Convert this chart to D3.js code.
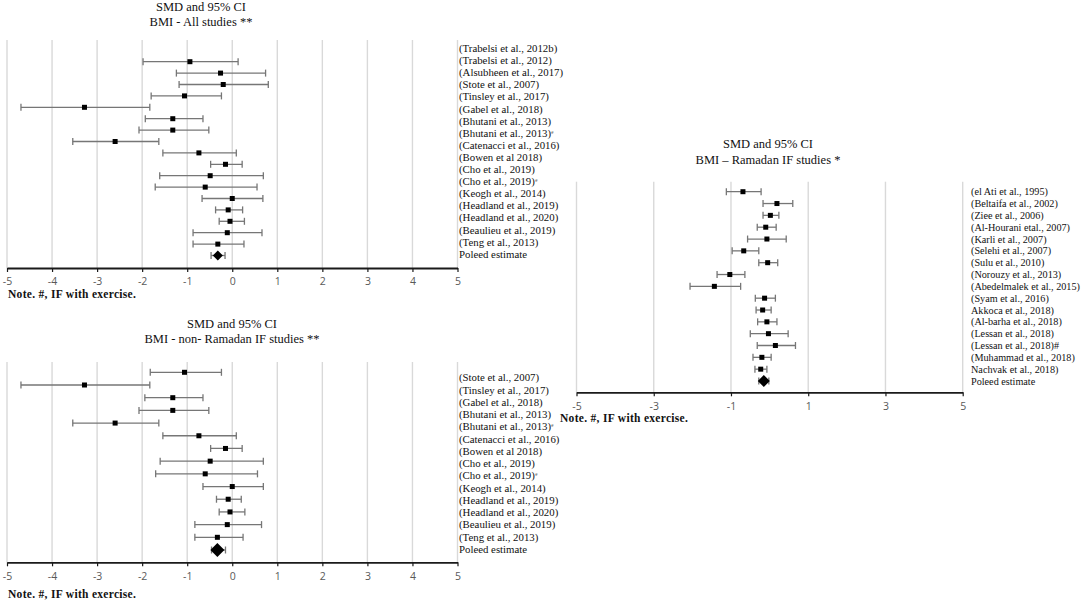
<!DOCTYPE html>
<html>
<head>
<meta charset="utf-8">
<script src="https://cdn.jsdelivr.net/npm/d3@7"></script>
<style>
  body { margin: 0; background: #fff; }
  svg { display: block; }
</style>
</head>
<body>
<svg id="chart" width="1084" height="600"></svg>
<script>
// ---- data: BMI - all studies ----
const allStudies = ["(Trabelsi et al., 2012b)", "(Trabelsi et al., 2012)", "(Alsubheen et al., 2017)",
  "(Stote et al., 2007)", "(Tinsley et al., 2017)", "(Gabel et al., 2018)", "(Bhutani et al., 2013)",
  "(Bhutani et al., 2013)#", "(Catenacci et al., 2016)", "(Bowen et al 2018)", "(Cho et al., 2019)",
  "(Cho et al., 2019)#", "(Keogh et al., 2014)", "(Headland et al., 2019)", "(Headland et al., 2020)",
  "(Beaulieu et al., 2019)", "(Teng et al., 2013)", "Poleed estimate"];
const allSmd  = [-0.94, -0.26, -0.20, -1.06, -3.28, -1.32, -1.32, -2.60, -0.74, -0.15, -0.49, -0.60, 0.00, -0.09, -0.05, -0.11, -0.32, -0.32];
const allLow  = [-1.98, -1.24, -1.18, -1.80, -4.69, -1.93, -2.07, -3.54, -1.54, -0.48, -1.61, -1.71, -0.67, -0.37, -0.29, -0.87, -0.87, -0.47];
const allHigh = [0.13, 0.74, 0.80, -0.24, -1.83, -0.65, -0.52, -1.63, 0.09, 0.22, 0.69, 0.55, 0.68, 0.23, 0.27, 0.66, 0.26, -0.16];

// ---- data: BMI - non-Ramadan IF studies ----
const nonRamStudies = ["(Stote et al., 2007)", "(Tinsley et al., 2017)", "(Gabel et al., 2018)",
  "(Bhutani et al., 2013)", "(Bhutani et al., 2013)#", "(Catenacci et al., 2016)", "(Bowen et al 2018)",
  "(Cho et al., 2019)", "(Cho et al., 2019)#", "(Keogh et al., 2014)", "(Headland et al., 2019)",
  "(Headland et al., 2020)", "(Beaulieu et al., 2019)", "(Teng et al., 2013)", "Poleed estimate"];
const nonRamSmd  = [-1.06, -3.28, -1.32, -1.32, -2.60, -0.74, -0.15, -0.49, -0.60, 0.00, -0.09, -0.05, -0.11, -0.33, -0.33];
const nonRamLow  = [-1.82, -4.69, -1.94, -2.07, -3.54, -1.54, -0.48, -1.60, -1.70, -0.65, -0.35, -0.29, -0.83, -0.83, -0.46];
const nonRamHigh = [-0.24, -1.83, -0.65, -0.52, -1.63, 0.09, 0.22, 0.69, 0.56, 0.69, 0.20, 0.28, 0.65, 0.24, -0.15];

// ---- data: BMI - Ramadan IF studies ----
const ramStudies = ["(el Ati et al., 1995)", "(Beltaifa et al., 2002)", "(Ziee et al., 2006)",
  "(Al-Hourani etal., 2007)", "(Karli et al., 2007)", "(Selehi et al., 2007)", "(Sulu  et al., 2010)",
  "(Norouzy et al., 2013)", "(Abedelmalek et al., 2015)", "(Syam et al., 2016)", "Akkoca et al., 2018)",
  "(Al-barha et al., 2018)", "(Lessan et al., 2018)", "(Lessan et al., 2018)#", "(Muhammad et al., 2018)",
  "Nachvak et al., 2018)", "Poleed estimate"];
const ramSmd  = [-0.69, 0.19, 0.02, -0.10, -0.07, -0.67, -0.05, -1.03, -1.43, -0.13, -0.18, -0.07, -0.03, 0.15, -0.20, -0.23, -0.15];
const ramLow  = [-1.12, -0.17, -0.17, -0.32, -0.57, -0.97, -0.28, -1.36, -2.06, -0.37, -0.35, -0.31, -0.50, -0.32, -0.43, -0.38, -0.28];
const ramHigh = [-0.22, 0.60, 0.24, 0.17, 0.43, -0.28, 0.21, -0.64, -0.75, 0.15, 0.04, 0.19, 0.48, 0.67, 0.04, -0.07, -0.02];

const ticksOne = [-5, -4, -3, -2, -1, 0, 1, 2, 3, 4, 5];
const ticksTwo = [-5, -3, -1, 1, 3, 5];
const noteText = "Note. #, IF with exercise.";

const svg = d3.select("#chart");
const serif = "'Liberation Serif', 'Times New Roman', serif";

function drawPanel(p) {
  const g = svg.append("g");
  const x = d3.scaleLinear().domain([-5, 5]).range(p.xRange);
  const n = p.smd.length;
  const yMark = d3.scalePoint().domain(d3.range(n)).range(p.markRange);
  const yLab = d3.scalePoint().domain(d3.range(p.labels.length)).range(p.labelRange);

  // titles
  g.selectAll("text.title").data(p.title).join("text")
    .attr("class", "title")
    .attr("x", p.titleX).attr("y", (d, i) => p.titleY[i])
    .attr("dy", "0.35em")
    .attr("text-anchor", "middle")
    .style("font-family", serif).style("font-size", "12.5px").attr("fill", "#111")
    .text(d => d);

  // vertical gridlines
  g.selectAll("line.grid").data(p.ticks).join("line")
    .attr("class", "grid")
    .attr("x1", d => x(d)).attr("x2", d => x(d))
    .attr("y1", p.gridTop).attr("y2", p.axisY)
    .attr("stroke", "#d9d9d9").attr("stroke-width", 1.4);

  // x axis
  const axis = g.append("g")
    .attr("transform", `translate(0,${p.axisY})`)
    .call(d3.axisBottom(x).tickValues(p.ticks).tickSize(4).tickSizeOuter(0)
      .tickPadding(6).tickFormat(d => String(d)));
  axis.select(".domain").attr("stroke", "#1a1a1a").attr("stroke-width", 1.8);
  axis.selectAll(".tick line").attr("stroke", "#1a1a1a").attr("stroke-width", 1.2);
  axis.selectAll(".tick text")
    .style("font-family", "'Open Sans', 'DejaVu Sans', sans-serif")
    .style("font-size", "10.5px").attr("fill", "#595959");

  // confidence intervals
  const rows = d3.range(n);
  const ci = g.selectAll("g.ci").data(rows).join("g").attr("class", "ci");
  ci.append("line")
    .attr("x1", i => x(p.low[i])).attr("x2", i => x(p.high[i]))
    .attr("y1", i => yMark(i)).attr("y2", i => yMark(i))
    .attr("stroke", "#767676").attr("stroke-width", 1.3);
  [p.low, p.high].forEach(arr => {
    ci.append("line")
      .attr("x1", i => x(arr[i])).attr("x2", i => x(arr[i]))
      .attr("y1", i => yMark(i) - 3.5).attr("y2", i => yMark(i) + 3.5)
      .attr("stroke", "#767676").attr("stroke-width", 1.3);
  });

  // point estimates (squares) and pooled diamond
  const s = p.square;
  ci.filter(i => i < n - 1).append("rect")
    .attr("x", i => x(p.smd[i]) - s / 2).attr("y", i => yMark(i) - s / 2)
    .attr("width", s).attr("height", s).attr("fill", "#000");
  const r = p.diamond;
  ci.filter(i => i === n - 1).append("path")
    .attr("d", i => {
      const cx = x(p.smd[i]), cy = yMark(i);
      return `M${cx - r},${cy}L${cx},${cy - r}L${cx + r},${cy}L${cx},${cy + r}Z`;
    })
    .attr("fill", "#000");

  // study labels
  const lab = g.selectAll("text.lab").data(p.labels).join("text")
    .attr("class", "lab")
    .attr("x", p.labelX).attr("y", (d, i) => yLab(i))
    .attr("dy", "0.35em")
    .style("font-family", serif).style("font-size", p.labelSize + "px").attr("fill", "#111");
  lab.each(function (d) {
    const t = d3.select(this);
    if (d.endsWith("#")) {
      t.append("tspan").text(d.slice(0, -1));
      t.append("tspan").text("#")
        .style("font-size", p.smallHash ? "5px" : p.labelSize + "px")
        .attr("dy", p.smallHash ? "-0.6em" : null);
    } else {
      t.text(d);
    }
  });

  // note
  g.append("text")
    .attr("x", p.noteX).attr("y", p.noteY).attr("dy", "0.35em")
    .style("font-family", serif).style("font-size", "11.5px").style("font-weight", "bold")
    .style("letter-spacing", "0.3px")
    .attr("fill", "#111")
    .text(noteText);
}

drawPanel({
  title: ["SMD and 95% CI", "BMI - All studies **"],
  labels: allStudies, smd: allSmd, low: allLow, high: allHigh,
  ticks: ticksOne, xRange: [7, 457.5],
  titleX: 201, titleY: [7, 22], gridTop: 40, axisY: 268,
  markRange: [61.7, 255.5], labelRange: [48.3, 254], labelX: 459, labelSize: 10.8,
  noteX: 8, noteY: 293.5, square: 5, diamond: 5, smallHash: true
});

drawPanel({
  title: ["SMD and 95% CI", "BMI - non- Ramadan IF studies **"],
  labels: nonRamStudies, smd: nonRamSmd, low: nonRamLow, high: nonRamHigh,
  ticks: ticksOne, xRange: [7, 457.5],
  titleX: 232, titleY: [323.3, 339], gridTop: 362, axisY: 562.3,
  markRange: [372.3, 550], labelRange: [377.7, 549], labelX: 459, labelSize: 10.8,
  noteX: 8, noteY: 594, square: 5, diamond: 7, smallHash: true
});

drawPanel({
  title: ["SMD and 95% CI", "BMI \u2013 Ramadan IF studies *"],
  labels: ramStudies, smd: ramSmd, low: ramLow, high: ramHigh,
  ticks: ticksTwo, xRange: [576.5, 962.7],
  titleX: 768, titleY: [144, 159.3], gridTop: 181.7, axisY: 392.3,
  markRange: [191.7, 381], labelRange: [191.7, 381], labelX: 971, labelSize: 10.2,
  noteX: 560, noteY: 418, square: 5, diamond: 6, smallHash: false
});
</script>
</body>
</html>
